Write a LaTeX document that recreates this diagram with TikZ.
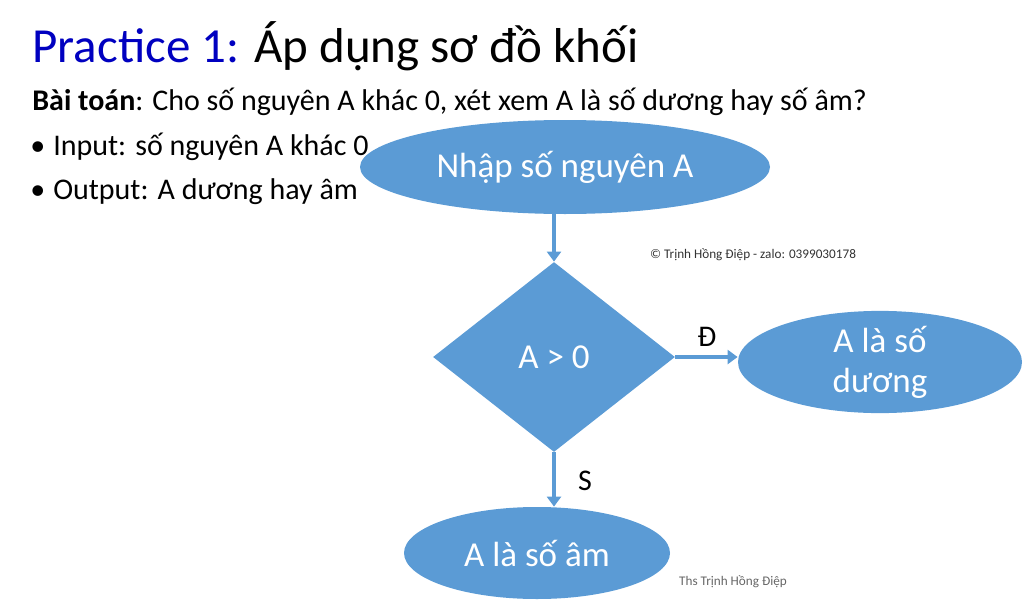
\documentclass[tikz,border=0pt]{standalone}
\usepackage{fontspec}
\setmainfont{Carlito}
\usetikzlibrary{shapes.geometric}
\usetikzlibrary{arrows.meta}
\definecolor{boxblue}{HTML}{5B9BD5}
\definecolor{titleblue}{HTML}{0000C0}
\begin{document}
\begin{tikzpicture}[x=0.5pt, y=-0.5pt]
        % ================= styles =================
        \tikzset{
            % oval blocks
            ovalbox/.style={ellipse, fill=boxblue, inner sep=0pt, text=white, font=\fontsize{17.5}{20}\selectfont, align=center},
            % decision block
            testbox/.style={diamond, fill=boxblue, inner sep=0pt, text=white, font=\fontsize{17.5}{20}\selectfont},
            % connectors
            flow/.style={line width=2pt, boxblue, -{Triangle[length=5pt, width=7pt]}},
            % body text
            bodytext/.style={anchor=base west, inner sep=0pt, font=\fontsize{15}{17}\selectfont}
        }
        \useasboundingbox (0,0) rectangle (1024,600);

        % ================= heading =================
        \node[anchor=base west, inner sep=0pt, font=\fontsize{24.5}{28}\selectfont] (title) at (32,62)
            {\textcolor{titleblue}{Practice 1:} Áp dụng sơ đồ khối};
        \node[bodytext] (task) at (32,110) {\textbf{Bài toán}: Cho số nguyên A khác 0, xét xem A là số dương hay số âm?};
        \node[bodytext] (inp) at (30,155) {•\hspace{4pt}Input: số nguyên A khác 0};
        \node[bodytext] (outp) at (30,199) {•\hspace{4pt}Output: A dương hay âm};

        % ================= flowchart =================
        \node[ovalbox, minimum width=205pt, minimum height=47pt] (input) at (565,167) {Nhập số nguyên A};
        \node[testbox, minimum width=121pt, minimum height=95pt] (test) at (554,357) {A > 0};
        \node[ovalbox, minimum width=142pt, minimum height=46pt] (pos) at (880,362) {A là số\\dương};
        \node[ovalbox, minimum width=133pt, minimum height=46pt] (neg) at (537,553) {A là số âm};

        \draw[flow] (input.south -| test.north) -- (test.north);
        \draw[flow] (test.east) -- (pos.west |- test.east);
        \draw[flow] (test.south) -- (test.south |- neg.north);

        % branch labels
        \node[font=\fontsize{15}{17}\selectfont] (yes) at (707,337) {Đ};
        \node[font=\fontsize{15}{17}\selectfont] (no) at (585,481) {S};

        % notes
        \node[font=\fontsize{6.6}{7}\selectfont, text=black!80] (mark) at (753,255) {© Trịnh Hồng Điệp - zalo: 0399030178};
        \node[font=\fontsize{6.6}{7}\selectfont, text=black!60] (sign) at (733,582) {Ths Trịnh Hồng Điệp};
\end{tikzpicture}
\end{document}
